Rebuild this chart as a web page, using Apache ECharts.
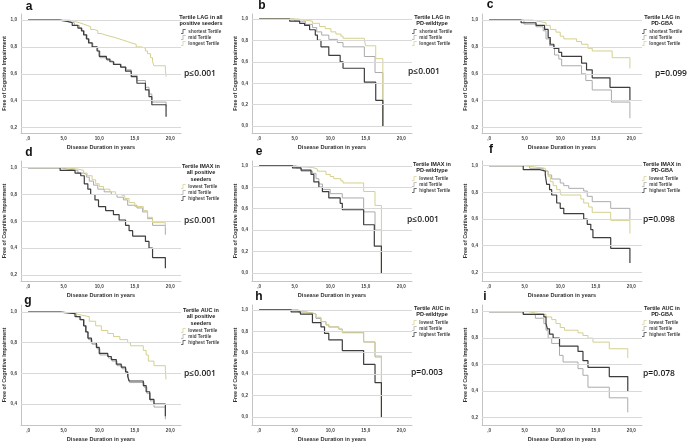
<!DOCTYPE html>
<html>
<head>
<meta charset="utf-8">
<script src="https://cdn.jsdelivr.net/npm/echarts@6/dist/echarts.min.js"></script>
<style>
  html, body { margin: 0; padding: 0; background: #fff; }
  #chart { width: 691px; height: 443px; }
</style>
</head>
<body>
<div id="chart"></div>
<script>
// x ticks and y ticks
var xTicks = [0, 5, 10, 15, 20];
var yTicksFrom02 = [0.2, 0.4, 0.6, 0.8, 1.0];
var yTicksFrom00 = [0.0, 0.2, 0.4, 0.6, 0.8, 1.0];
var yTicksFrom04 = [0.4, 0.6, 0.8, 1.0];

// a: LAG, all positive seeders
var aShort = [[0,1],[4.4,0.99],[5.5,0.98],[6.2,0.96],[7.0,0.94],[7.5,0.92],[7.8,0.89],[8.2,0.86],[8.5,0.83],[9.0,0.80],[9.7,0.77],[10.0,0.73],[11.0,0.71],[11.5,0.69],[12.0,0.67],[13.0,0.65],[13.7,0.62],[14.5,0.58],[15.3,0.53],[16.5,0.48],[17.0,0.43],[17.4,0.37],[19.4,0.28]];
var aMid = [[0,1],[4.6,0.99],[5.8,0.98],[6.5,0.96],[7.2,0.94],[7.6,0.92],[7.9,0.89],[8.3,0.86],[8.6,0.83],[9.1,0.80],[9.8,0.77],[10.1,0.72],[11.1,0.70],[11.6,0.69],[12.1,0.67],[13.1,0.65],[13.8,0.63],[14.5,0.59],[15.3,0.55],[16.5,0.50],[17.0,0.45],[17.4,0.39],[19.4,0.36]];
var aLong = [[0,1],[5.8,0.99],[6.5,0.98],[7.2,0.97],[7.8,0.96],[8.3,0.95],[8.8,0.93],[9.3,0.92],[9.8,0.90],[10.3,0.89],[10.8,0.88],[11.5,0.87],[12.2,0.86],[12.8,0.85],[13.4,0.84],[14.0,0.83],[14.5,0.82],[15.2,0.80],[16.0,0.79],[16.5,0.77],[16.8,0.75],[17.2,0.72],[17.5,0.69],[17.7,0.66],[19.3,0.63],[19.4,0.58]];

// b: LAG, PD-wildtype
var bShort = [[0,1],[4.3,0.98],[5.7,0.96],[6.4,0.94],[7.1,0.90],[7.9,0.85],[8.2,0.80],[8.7,0.74],[9.8,0.66],[11.4,0.60],[11.8,0.54],[14.8,0.41],[16.4,0.24],[17.4,0]];
var bMid = [[0,1],[5.0,0.98],[6.5,0.95],[7.5,0.92],[8.1,0.88],[8.8,0.85],[9.8,0.81],[11.0,0.78],[11.8,0.74],[14.8,0.65],[16.3,0.50],[17.4,0]];
var bLong = [[0,1],[5.5,0.99],[6.5,0.98],[7.5,0.96],[8.5,0.93],[9.3,0.91],[10.1,0.88],[10.8,0.86],[11.5,0.84],[11.8,0.82],[14.8,0.80],[15.0,0.75],[16.4,0.63],[17.4,0]];

// c: LAG, PD-GBA
var cShort = [[0,1],[4.5,0.98],[6.6,0.96],[7.8,0.93],[8.3,0.87],[8.6,0.82],[9.1,0.79],[9.8,0.76],[10.2,0.73],[13.0,0.68],[13.7,0.63],[14.5,0.57],[17.0,0.50],[19.8,0.40]];
var cMid = [[0,1],[4.9,0.97],[6.6,0.95],[7.6,0.92],[8.0,0.86],[8.5,0.81],[9.2,0.74],[9.8,0.71],[10.2,0.66],[13.0,0.60],[13.6,0.55],[14.5,0.48],[17.2,0.39],[19.8,0.27]];
var cLong = [[0,1],[6.1,0.99],[7.0,0.98],[8.0,0.96],[8.6,0.93],[9.4,0.91],[10.0,0.88],[10.5,0.86],[12.3,0.84],[13.0,0.82],[13.9,0.79],[14.5,0.77],[17.3,0.72],[19.8,0.64]];

// d: IMAX, all positive seeders
var dLow = [[0,1],[5.0,0.99],[7.0,0.98],[7.8,0.96],[8.3,0.94],[9.0,0.91],[9.5,0.88],[10.0,0.86],[10.6,0.84],[11.5,0.82],[12.3,0.80],[13.0,0.79],[13.6,0.77],[14.2,0.74],[15.0,0.71],[16.2,0.68],[16.8,0.63],[17.5,0.59],[19.3,0.55]];
var dMid = [[0,1],[4.5,0.99],[5.5,0.98],[7.0,0.96],[7.8,0.95],[8.2,0.93],[8.6,0.90],[9.2,0.87],[9.8,0.84],[10.7,0.82],[11.7,0.80],[12.5,0.78],[13.4,0.76],[14.0,0.72],[15.3,0.70],[16.1,0.67],[16.8,0.62],[17.5,0.57],[19.3,0.50]];
var dHigh = [[0,1],[4.5,0.98],[6.6,0.96],[7.4,0.94],[7.9,0.88],[8.4,0.84],[8.8,0.80],[9.4,0.76],[9.9,0.71],[10.9,0.68],[12.0,0.65],[12.8,0.61],[13.7,0.57],[14.2,0.53],[14.7,0.49],[16.5,0.45],[17.0,0.40],[17.5,0.33],[19.3,0.25]];

// e: IMAX, PD-wildtype
var eLow = [[0,1],[5.0,0.99],[6.0,0.985],[7.5,0.97],[8.2,0.95],[9.4,0.92],[10.0,0.90],[10.5,0.88],[11.5,0.86],[11.8,0.84],[14.7,0.76],[16.3,0.63],[17.2,0]];
var eMid = [[0,1],[5.2,0.98],[5.9,0.95],[7.5,0.93],[8.0,0.88],[8.4,0.83],[8.9,0.78],[10.0,0.74],[11.7,0.70],[14.7,0.57],[16.3,0.40],[17.2,0]];
var eHigh = [[0,1],[4.7,0.98],[5.9,0.96],[7.3,0.92],[7.7,0.85],[8.4,0.80],[8.9,0.76],[9.8,0.70],[11.4,0.65],[11.7,0.59],[14.7,0.45],[16.2,0.25],[17.2,0]];

// f: IMAX, PD-GBA
var fLow = [[0,1],[5.0,0.99],[6.5,0.98],[7.9,0.96],[8.3,0.92],[8.6,0.88],[9.0,0.85],[9.5,0.82],[10.0,0.80],[10.1,0.78],[12.9,0.75],[13.3,0.72],[14.0,0.69],[14.5,0.65],[17.1,0.59],[19.8,0.49]];
var fMid = [[0,1],[5.7,0.98],[7.6,0.96],[8.3,0.93],[8.8,0.90],[10.0,0.87],[10.5,0.85],[11.2,0.83],[13.3,0.81],[13.8,0.77],[14.5,0.73],[17.1,0.68],[19.8,0.60]];
var fHigh = [[0,1],[4.8,0.97],[7.1,0.96],[7.9,0.93],[8.1,0.86],[8.5,0.82],[8.8,0.78],[9.5,0.72],[10.0,0.68],[10.5,0.64],[13.3,0.60],[13.8,0.56],[14.3,0.52],[14.6,0.46],[17.1,0.38],[19.8,0.27]];

// g: AUC, all positive seeders
var gLow = [[0,1],[5.0,0.99],[6.5,0.98],[7.5,0.97],[8.6,0.94],[9.5,0.91],[10.3,0.88],[11.2,0.86],[12.0,0.84],[12.9,0.82],[14.0,0.80],[14.4,0.78],[16.2,0.75],[16.6,0.72],[16.9,0.68],[17.7,0.65],[19.3,0.62],[19.4,0.56]];
var gMid = [[0,1],[4.6,0.99],[6.8,0.97],[7.4,0.95],[7.9,0.91],[8.2,0.87],[8.5,0.82],[9.0,0.79],[9.7,0.76],[10.1,0.72],[11.3,0.70],[11.8,0.68],[12.5,0.65],[13.2,0.63],[13.8,0.60],[14.1,0.57],[14.3,0.54],[16.3,0.51],[16.7,0.47],[17.2,0.42],[17.7,0.38],[19.3,0.30]];
var gHigh = [[0,1],[4.5,0.99],[6.6,0.97],[7.3,0.95],[7.8,0.91],[8.1,0.87],[8.4,0.83],[8.9,0.80],[9.6,0.77],[10.0,0.73],[11.2,0.71],[11.7,0.69],[12.4,0.66],[13.1,0.64],[13.7,0.61],[14.0,0.58],[14.2,0.55],[16.2,0.52],[16.6,0.48],[17.1,0.43],[17.7,0.40],[19.3,0.32]];

// h: AUC, PD-wildtype
var hLow = [[0,1],[5.5,0.98],[6.5,0.97],[7.5,0.96],[8.0,0.93],[8.7,0.89],[9.4,0.86],[9.8,0.84],[11.2,0.82],[11.7,0.785],[14.7,0.70],[16.3,0.57],[17.2,0]];
var hMid = [[0,1],[5.5,0.98],[6.5,0.97],[7.5,0.96],[8.0,0.92],[8.7,0.89],[9.4,0.86],[9.8,0.84],[11.2,0.82],[11.7,0.79],[14.7,0.70],[16.3,0.56],[17.2,0]];
var hHigh = [[0,1],[4.5,0.98],[5.8,0.96],[7.5,0.88],[8.7,0.84],[9.2,0.78],[9.8,0.72],[11.7,0.62],[14.7,0.49],[16.3,0.32],[17.2,0]];

// i: AUC, PD-GBA
var iLow = [[0,1],[5.5,0.99],[6.5,0.98],[8.0,0.96],[8.8,0.94],[9.4,0.91],[10.0,0.88],[10.6,0.86],[12.5,0.84],[13.2,0.82],[13.9,0.80],[14.6,0.77],[16.9,0.72],[19.5,0.65]];
var iMid = [[0,1],[4.8,0.98],[6.5,0.95],[7.7,0.91],[8.0,0.86],[8.3,0.80],[8.8,0.76],[9.9,0.67],[10.4,0.62],[12.5,0.57],[13.2,0.52],[13.9,0.43],[16.9,0.35],[19.5,0.24]];
var iHigh = [[0,1],[4.8,0.98],[7.7,0.96],[8.0,0.91],[8.2,0.87],[8.5,0.83],[9.0,0.80],[9.9,0.74],[12.5,0.70],[13.2,0.63],[13.9,0.58],[16.9,0.51],[19.5,0.40]];

var DARK = '#3d3d3d', LIGHT = '#ababab', YELLOW = '#d5d08e';
var colorOf = {
    'shortest Tertile': DARK, 'highest Tertile': DARK,
    'mid Tertile': LIGHT,
    'longest Tertile': YELLOW, 'lowest Tertile': YELLOW
};

var colX = [0, 231, 461];
var rows = [{top: 14, h: 119}, {top: 161, h: 120}, {top: 305, h: 120}];

var panels = [
    {letter: 'a', col: 0, row: 0, lx: 29, ly: 7, head: 'Tertile LAG in all\npositive seeders', p: 'p\u22640.001', px: 200, py: 74,
        yTicks: yTicksFrom02, yMin: 0.16, yMax: 1.045,
        series: [['mid Tertile', aMid], ['longest Tertile', aLong], ['shortest Tertile', aShort]],
        legend: ['shortest Tertile', 'mid Tertile', 'longest Tertile']},
    {letter: 'b', col: 1, row: 0, lx: 262, ly: 6, head: 'Tertile LAG in\nPD-wildtype', p: 'p\u22640.001', px: 424, py: 72,
        yTicks: yTicksFrom00, yMin: -0.065, yMax: 1.047,
        series: [['mid Tertile', bMid], ['longest Tertile', bLong], ['shortest Tertile', bShort]],
        legend: ['shortest Tertile', 'mid Tertile', 'longest Tertile']},
    {letter: 'c', col: 2, row: 0, lx: 490, ly: 5, head: 'Tertile LAG in\nPD-GBA', p: 'p=0.099', px: 671, py: 74,
        yTicks: yTicksFrom02, yMin: 0.16, yMax: 1.045,
        series: [['mid Tertile', cMid], ['longest Tertile', cLong], ['shortest Tertile', cShort]],
        legend: ['shortest Tertile', 'mid Tertile', 'longest Tertile']},
    {letter: 'd', col: 0, row: 1, lx: 29, ly: 153, head: 'Tertile IMAX in\nall positive\nseeders', p: 'p\u22640.001', px: 200, py: 221,
        yTicks: yTicksFrom02, yMin: 0.155, yMax: 1.05,
        series: [['mid Tertile', dMid], ['lowest Tertile', dLow], ['highest Tertile', dHigh]],
        legend: ['lowest Tertile', 'mid Tertile', 'highest Tertile']},
    {letter: 'e', col: 1, row: 1, lx: 259, ly: 152, head: 'Tertile IMAX in\nPD-wildtype', p: 'p\u22640.001', px: 423, py: 220,
        yTicks: yTicksFrom00, yMin: -0.075, yMax: 1.045,
        series: [['mid Tertile', eMid], ['lowest Tertile', eLow], ['highest Tertile', eHigh]],
        legend: ['lowest Tertile', 'mid Tertile', 'highest Tertile']},
    {letter: 'f', col: 2, row: 1, lx: 491, ly: 150, head: 'Tertile IMAX in\nPD-GBA', p: 'p=0.098', px: 659, py: 220,
        yTicks: yTicksFrom02, yMin: 0.135, yMax: 1.035,
        series: [['mid Tertile', fMid], ['lowest Tertile', fLow], ['highest Tertile', fHigh]],
        legend: ['lowest Tertile', 'mid Tertile', 'highest Tertile']},
    {letter: 'g', col: 0, row: 2, lx: 28, ly: 301, head: 'Tertile AUC in\nall positive\nseeders', p: 'p\u22640.001', px: 200, py: 374,
        yTicks: yTicksFrom04, yMin: 0.263, yMax: 1.046,
        series: [['mid Tertile', gMid], ['lowest Tertile', gLow], ['highest Tertile', gHigh]],
        legend: ['lowest Tertile', 'mid Tertile', 'highest Tertile']},
    {letter: 'h', col: 1, row: 2, lx: 259, ly: 297, head: 'Tertile AUC in\nPD-wildtype', p: 'p=0.003', px: 427, py: 373,
        yTicks: yTicksFrom00, yMin: -0.075, yMax: 1.045,
        series: [['mid Tertile', hMid], ['lowest Tertile', hLow], ['highest Tertile', hHigh]],
        legend: ['lowest Tertile', 'mid Tertile', 'highest Tertile']},
    {letter: 'i', col: 2, row: 2, lx: 485, ly: 297, head: 'Tertile AUC in\nPD-GBA', p: 'p=0.078', px: 659, py: 374,
        yTicks: yTicksFrom02, yMin: 0.145, yMax: 1.05,
        series: [['mid Tertile', iMid], ['lowest Tertile', iLow], ['highest Tertile', iHigh]],
        legend: ['lowest Tertile', 'mid Tertile', 'highest Tertile']}
];

var FONT = '"Liberation Sans", Arial, sans-serif';
var stepIcon = 'path://M0,8 L3.5,8 L3.5,0 L10,0 L10,1.6 L5.1,1.6 L5.1,9.6 L0,9.6 Z';

function commaNum(v) {
    return v.toFixed(1).replace('.', ',');
}

var grids = [], xAxes = [], yAxes = [], series = [], legends = [], graphics = [];

panels.forEach(function (pn, k) {
    var left = colX[pn.col] + 21;
    var row = rows[pn.row];
    grids.push({left: left, top: row.top, width: 160, height: row.h});

    xAxes.push({
        type: 'value', gridIndex: k, min: -1, max: 21.5,
        name: 'Disease Duration in years', nameLocation: 'middle', nameGap: 11,
        nameTextStyle: {fontSize: 5.6, fontWeight: 'bold', color: '#333', fontFamily: FONT},
        axisLine: {onZero: false, lineStyle: {color: '#c4c4c4', width: 1}},
        axisTick: {show: false},
        splitLine: {show: false},
        axisLabel: {
            customValues: xTicks, fontSize: 4.6, color: '#444', fontWeight: 'bold', margin: 3, fontFamily: FONT,
            formatter: function (v) { return v === 0 ? ',0' : commaNum(v); }
        }
    });

    yAxes.push({
        type: 'value', gridIndex: k, min: pn.yMin, max: pn.yMax,
        name: 'Free of Cognitive Impairment', nameLocation: 'middle', nameGap: 13, nameRotate: 90,
        nameTextStyle: {fontSize: 5.4, fontWeight: 'bold', color: '#333', fontFamily: FONT},
        axisLine: {show: true, onZero: false, lineStyle: {color: '#c4c4c4', width: 1}},
        axisTick: {show: false},
        splitLine: {show: false},
        axisLabel: {
            customValues: pn.yTicks, fontSize: 4.6, color: '#444', fontWeight: 'bold', margin: 4, fontFamily: FONT,
            formatter: function (v) { return commaNum(v); }
        }
    });

    pn.series.forEach(function (s, j) {
        var item = {
            name: s[0], type: 'line', step: 'end', xAxisIndex: k, yAxisIndex: k,
            data: s[1], showSymbol: false, symbol: 'none', silent: true,
            color: colorOf[s[0]],
            lineStyle: {width: colorOf[s[0]] === DARK ? 1.2 : 1, color: colorOf[s[0]]}
        };
        if (j === 0) {
            item.markLine = {
                silent: true, symbol: ['none', 'none'], label: {show: false},
                lineStyle: {color: '#d9d9d9', width: 1, type: 'solid'},
                data: pn.yTicks.map(function (v) { return {yAxis: v}; })
            };
        }
        series.push(item);
    });

    var lines = pn.head.split('\n').length;
    var legendTop = row.top + (lines === 3 ? 23 : 15);
    legends.push({
        data: pn.legend, orient: 'vertical', left: colX[pn.col] + 181, top: legendTop,
        padding: 0, itemGap: 1, itemWidth: 6, itemHeight: 4.5, icon: stepIcon,
        selectedMode: false,
        textStyle: {fontSize: 4.6, fontWeight: 'bold', color: '#444', fontFamily: FONT, lineHeight: 5, padding: [0, 0, 0, -3]}
    });

    graphics.push({
        type: 'text', x: colX[pn.col] + 201, y: row.top + (lines === 3 ? 2 : 0),
        style: {text: pn.head, align: 'center', verticalAlign: 'top', fill: '#222',
            font: 'bold 5.5px ' + FONT, lineHeight: 6.6}
    });
    graphics.push({
        type: 'text', x: pn.lx, y: pn.ly,
        style: {text: pn.letter, align: 'center', verticalAlign: 'middle', fill: '#111',
            font: 'bold 12px ' + FONT}
    });
    graphics.push({
        type: 'text', x: pn.px, y: pn.py,
        style: {text: pn.p, align: 'center', verticalAlign: 'middle', fill: '#1a1a1a',
            font: '600 8.5px "Open Sans", ' + FONT}
    });
});

var chart = echarts.init(document.getElementById('chart'), null, {renderer: 'canvas'});
chart.setOption({
    backgroundColor: '#ffffff',
    animation: false,
    grid: grids,
    xAxis: xAxes,
    yAxis: yAxes,
    legend: legends,
    series: series,
    graphic: graphics
});
</script>
</body>
</html>
